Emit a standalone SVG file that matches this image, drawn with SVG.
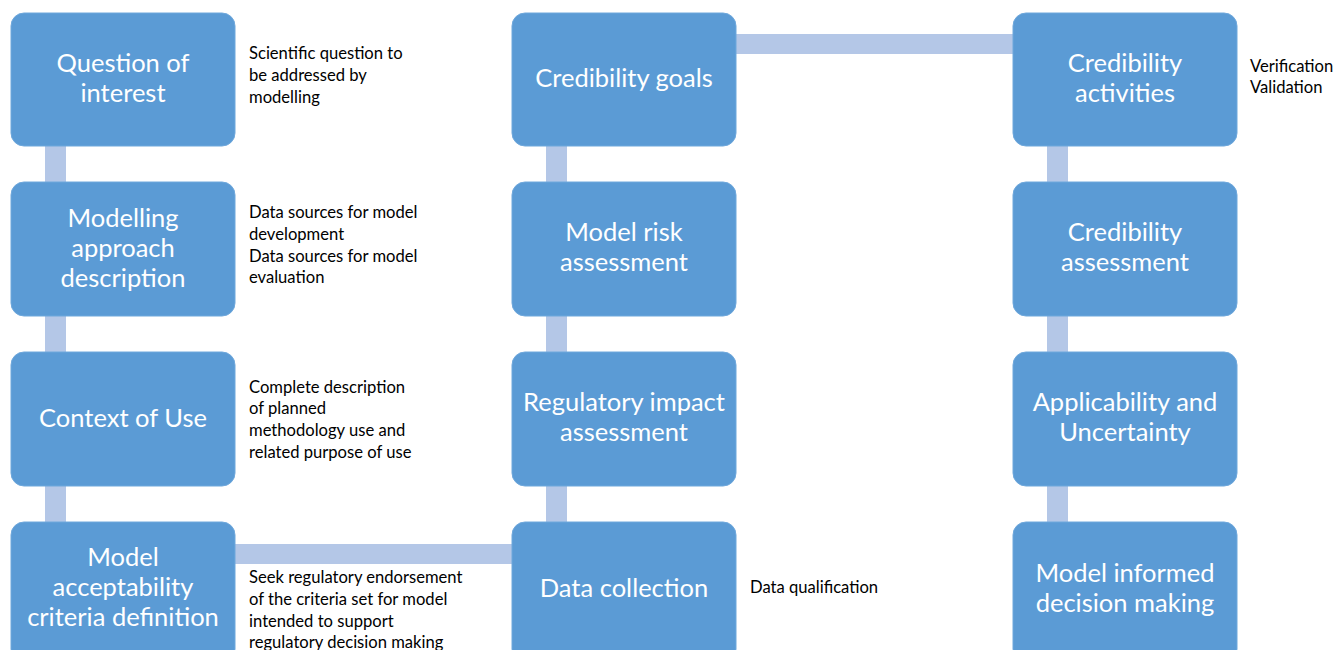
<svg xmlns="http://www.w3.org/2000/svg" width="1336" height="650" viewBox="0 0 1336 650">
<style>
.box{fill:#5B9BD5;stroke:#6FA8DC;stroke-width:1}
.bar{fill:#B4C7E7}
.t{font-family:Lato,"Open Sans","Liberation Sans",sans-serif;font-size:25.5px;fill:#FFFFFF;text-anchor:middle}
.s{font-family:Lato,"Open Sans","Liberation Sans",sans-serif;font-size:16.6px;fill:#000000}
</style>
<rect width="1336" height="650" fill="#FFFFFF"/>
<g id="connectors">
<rect class="bar" x="45" y="146" width="21" height="36"/>
<rect class="bar" x="45" y="316" width="21" height="36"/>
<rect class="bar" x="45" y="486" width="21" height="36"/>
<rect class="bar" x="546" y="146" width="21" height="36"/>
<rect class="bar" x="546" y="316" width="21" height="36"/>
<rect class="bar" x="546" y="486" width="21" height="36"/>
<rect class="bar" x="1047" y="146" width="21" height="36"/>
<rect class="bar" x="1047" y="316" width="21" height="36"/>
<rect class="bar" x="1047" y="486" width="21" height="36"/>
<rect class="bar" x="736" y="34" width="277" height="20"/>
<rect class="bar" x="235" y="544" width="277" height="20"/>
</g>
<g id="n-question">
<rect class="box" x="11" y="13" width="224" height="133" rx="13"/>
<text class="t" x="123" y="72">Question of</text>
<text class="t" x="123" y="102">interest</text>
<text class="s" x="249" y="59">Scientific question to</text>
<text class="s" x="249" y="81">be addressed by</text>
<text class="s" x="249" y="103">modelling</text>
</g>
<g id="n-approach">
<rect class="box" x="11" y="182" width="224" height="134" rx="13"/>
<text class="t" x="123" y="227">Modelling</text>
<text class="t" x="123" y="257">approach</text>
<text class="t" x="123" y="287">description</text>
<text class="s" x="249" y="218">Data sources for model</text>
<text class="s" x="249" y="240">development</text>
<text class="s" x="249" y="262">Data sources for model</text>
<text class="s" x="249" y="283">evaluation</text>
</g>
<g id="n-context">
<rect class="box" x="11" y="352" width="224" height="134" rx="13"/>
<text class="t" x="123" y="427">Context of Use</text>
<text class="s" x="249" y="393">Complete description</text>
<text class="s" x="249" y="414">of planned</text>
<text class="s" x="249" y="436">methodology use and</text>
<text class="s" x="249" y="458">related purpose of use</text>
</g>
<g id="n-criteria">
<rect class="box" x="11" y="522" width="224" height="140" rx="13"/>
<text class="t" x="123" y="566">Model</text>
<text class="t" x="123" y="596">acceptability</text>
<text class="t" x="123" y="626">criteria definition</text>
<text class="s" x="249" y="583">Seek regulatory endorsement</text>
<text class="s" x="249" y="605">of the criteria set for model</text>
<text class="s" x="249" y="627">intended to support</text>
<text class="s" x="249" y="648">regulatory decision making</text>
</g>
<g id="n-goals">
<rect class="box" x="512" y="13" width="224" height="133" rx="13"/>
<text class="t" x="624" y="87">Credibility goals</text>
</g>
<g id="n-risk">
<rect class="box" x="512" y="182" width="224" height="134" rx="13"/>
<text class="t" x="624" y="241">Model risk</text>
<text class="t" x="624" y="271">assessment</text>
</g>
<g id="n-impact">
<rect class="box" x="512" y="352" width="224" height="134" rx="13"/>
<text class="t" x="624" y="411">Regulatory impact</text>
<text class="t" x="624" y="441">assessment</text>
</g>
<g id="n-data">
<rect class="box" x="512" y="522" width="224" height="140" rx="13"/>
<text class="t" x="624" y="597">Data collection</text>
<text class="s" x="750" y="593">Data qualification</text>
</g>
<g id="n-activities">
<rect class="box" x="1013" y="13" width="224" height="133" rx="13"/>
<text class="t" x="1125" y="72">Credibility</text>
<text class="t" x="1125" y="102">activities</text>
<text class="s" x="1250" y="72">Verification</text>
<text class="s" x="1250" y="93">Validation</text>
</g>
<g id="n-credassess">
<rect class="box" x="1013" y="182" width="224" height="134" rx="13"/>
<text class="t" x="1125" y="241">Credibility</text>
<text class="t" x="1125" y="271">assessment</text>
</g>
<g id="n-applic">
<rect class="box" x="1013" y="352" width="224" height="134" rx="13"/>
<text class="t" x="1125" y="411">Applicability and</text>
<text class="t" x="1125" y="441">Uncertainty</text>
</g>
<g id="n-decision">
<rect class="box" x="1013" y="522" width="224" height="140" rx="13"/>
<text class="t" x="1125" y="582">Model informed</text>
<text class="t" x="1125" y="612">decision making</text>
</g>
</svg>
